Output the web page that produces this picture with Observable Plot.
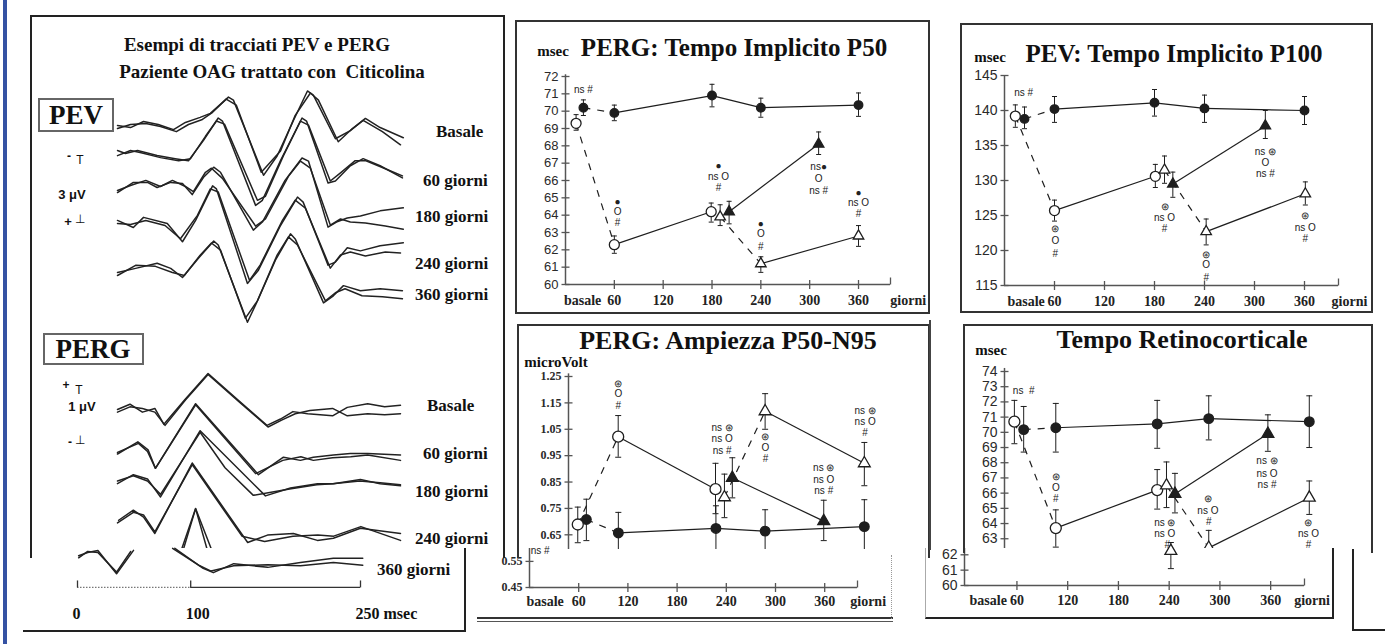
<!DOCTYPE html>
<html><head><meta charset="utf-8">
<script src="https://cdn.jsdelivr.net/npm/d3@7"></script>
<script src="https://cdn.jsdelivr.net/npm/@observablehq/plot@0.6"></script>
<style>
html,body{margin:0;padding:0;background:#fff;}
body{width:1394px;height:644px;overflow:hidden;position:relative;}
svg{overflow:visible;}
</style></head><body>
<script>
// ---------------- DATA ----------------
// PEV waveforms: [ms, µV relative to row baseline]
const pevRows = ["Basale","60 giorni","180 giorni","240 giorni","360 giorni"];
const pevOffsets = [0,-1.28,-3.25,-4.67,-7.23];
const pevBasaleA=[[0,0],[11.5,-0.1],[23,0.2],[36,0.05],[49.5,-0.2],[60,0.15],[73,0.4],[82,0.6],[98,1.4],[102.4,1.25],[129,-2.45],[141,-1.5],[155.4,0.25],[167.8,1.7],[173,1.5],[192.5,-0.65],[205.7,-0.25],[219,0.35],[232,-0.1],[252.5,-0.6]];
const pevBasaleB=[[0,-0.15],[11.5,0.05],[25,0.1],[38,-0.05],[52,-0.3],[62.7,0.05],[75,0.3],[84,0.65],[96,1.3],[105,1.0],[127,-2.3],[144,-1.25],[157,0.5],[170.4,1.6],[177.5,1.25],[195,-0.8],[207.5,-0.15],[217,0.25],[234,-0.3],[250,-0.95]];
const pev60A=[[0,0.05],[7,-0.1],[17.7,0.05],[35,-0.2],[51,-0.35],[62.7,-0.45],[76,0.55],[89,1.65],[92.7,1.5],[122,-2.65],[128,-2.4],[144,-0.45],[163,1.65],[167,1.5],[186,-1.55],[192.5,-1.45],[205.7,-0.7],[217,-0.35],[232,-0.7],[251.7,-1.3]];
const pev60B=[[0,-0.2],[11.5,0.05],[20,-0.05],[38,-0.3],[54,-0.45],[64.5,-0.35],[77.7,0.75],[87.4,1.5],[94.5,1.35],[123.6,-2.4],[130.7,-2.2],[146.6,-0.2],[161.6,1.5],[168.7,1.3],[188,-1.45],[197,-1.05],[210,-0.45],[219,-0.45],[236.6,-0.85],[251.7,-1.2]];
const pev180A=[[0,-0.05],[14,0.45],[26.5,0.45],[35,0.2],[47,0.45],[57.4,0.4],[66,-0.15],[76,0.7],[85,1.2],[91,0.95],[120,-1.9],[128,-1.5],[148,0.55],[163,1.65],[168.7,1.5],[186,-1.75],[193.4,-1.5],[203,-1.3],[214.6,-1.2],[232,-0.95],[252.5,-0.8]];
const pev180B=[[0,0.05],[11.5,0.3],[25,0.55],[38,0.25],[48.5,0.55],[60,0.25],[67,0],[77.7,0.95],[83,1.15],[92.7,0.65],[122,-1.7],[130.7,-1.35],[151,0.75],[161.6,1.5],[170.4,1.15],[188,-1.65],[197,-1.35],[205.7,-1.5],[219,-1.55],[236.6,-1.7],[252.5,-1.85]];
const pev240A=[[0,0],[14,-0.35],[23,0.15],[44,-0.15],[57.4,-1.05],[69,0],[84,1.7],[87.4,1.55],[114.8,-3.1],[124.5,-2.45],[144,-0.25],[159,1.15],[164,0.9],[186,-2.2],[192.5,-2.05],[203,-1.35],[214.6,-1.5],[232,-1.25],[252.5,-1.1]];
const pev240B=[[0,-0.15],[11.5,-0.2],[25,0],[42,-0.25],[55.6,-0.9],[70.6,0.25],[82,1.55],[89,1.4],[116.6,-2.95],[126,-2.2],[145.7,0],[157,1.0],[166,0.6],[188,-2.35],[197,-1.7],[205.7,-1.55],[219,-1.75],[236.6,-1.55],[250,-1.6]];
const pev360A=[[0,0],[16,0.2],[35,0.45],[47,0.2],[57.4,-0.25],[71.5,0.7],[85,1.55],[89,1.35],[114.8,-2.45],[122,-1.6],[139.5,0.6],[152.8,1.9],[157,1.65],[182,-1.5],[190.7,-1.15],[199.6,-0.65],[214.6,-0.9],[232,-0.8],[251.7,-0.9]];
const pev360B=[[0,-0.15],[16,0.35],[33.5,0.3],[48.5,0],[59,-0.15],[73,0.85],[83,1.45],[91,1.1],[113,-2.25],[123.6,-1.4],[141,0.85],[151,1.75],[159,1.35],[183.7,-1.4],[192.5,-1.0],[201,-0.8],[216,-1.15],[234,-1.2],[251.7,-1.3]];

// PERG waveforms
const pergRows = ["Basale","60 giorni","180 giorni","240 giorni","360 giorni"];
const pergOffsets = [0,-0.81,-1.40,-2.09,-2.85];
const pergBasaleA=[[0,0],[11,0.1],[22,-0.05],[33,0.02],[41,-0.28],[60,0.2],[80,0.68],[107,0.17],[132,-0.3],[144,-0.18],[155,-0.04],[168,-0.08],[190,-0.12],[203,0.04],[221,0.11],[236,0.05],[250,0.08]];
const pergBasaleB=[[0,-0.05],[11,0.05],[22,0.02],[33,-0.05],[42,-0.3],[60,0.18],[80,0.66],[107,0.15],[133,-0.33],[145,-0.2],[157,-0.08],[170,-0.02],[190,0.02],[203,-0.12],[221,-0.08],[236,-0.1],[250,-0.08]];
const perg60A=[[0,0],[18.5,0.17],[26.5,0.02],[33.5,-0.3],[69,0.92],[124.5,-0.42],[146.6,-0.09],[161.6,-0.15],[173,-0.09],[190.7,-0.05],[205.7,-0.02],[221,-0.02],[250,-0.05]];
const perg60B=[[0,-0.03],[18,0.2],[27,0.05],[33.5,-0.3],[69,0.9],[122,-0.4],[146,-0.15],[162,-0.08],[173,-0.15],[190,-0.1],[206,-0.08],[221,-0.05],[250,-0.15]];
const perg180A=[[0,0],[14,0.17],[26.5,0.09],[38,-0.25],[73,1.0],[130.7,-0.23],[152.8,-0.08],[176.6,0],[190.7,0],[214.6,0.08],[232,0],[250,-0.04]];
const perg180B=[[0,0.05],[14,0.15],[26.5,0.05],[38,-0.2],[73,0.97],[95,0.3],[120,-0.22],[152,-0.1],[176,-0.02],[190,0],[214,0.05],[232,0.02],[250,-0.02]];
const perg240A=[[1,0],[14,0.19],[23,0.06],[33,-0.25],[66,1.08],[115,-0.42],[132.5,-0.28],[155.4,-0.25],[176.6,-0.38],[190.7,-0.34],[214.6,-0.15],[250,-0.25]];
const perg240B=[[0,-0.05],[14,0.15],[23,0.1],[33,-0.22],[66,1.05],[110,-0.3],[130,-0.4],[155,-0.3],[177,-0.28],[191,-0.3],[215,-0.12],[250,-0.38]];
const perg360A=[[49.5,-0.23],[69,0.98],[85,-0.23]];
const perg360B=[[52,-0.23],[69,0.98],[91,-0.23]];
// pasted strip with 360 giorni PERG trace and time axis
const strip360A1=[[1,0.09],[9,0.15],[18,0.19],[34.5,-0.25],[49.5,0.19]];
const strip360A2=[[86,0.23],[111,-0.15],[120,-0.23],[138,-0.06],[168,-0.13],[197,-0.04],[226,0.04],[252,0.04]];
const strip360B1=[[1,0.05],[9,0.17],[18,0.15],[34.5,-0.22],[47,0.17]];
const strip360B2=[[84,0.23],[108,-0.1],[118,-0.2],[138,-0.1],[168,-0.08],[197,-0.1],[226,-0.04],[252,-0.09]];
const timeTicks=[0,100,250];
const timeTickLabels=["0","100","250 msec"];

// Chart 1: PERG Tempo Implicito P50  [giorni, msec, low, high]
const p50FilledCircle=[[22,70.2,69.75,70.65],[60,69.9,69.45,70.35],[180,70.9,70.25,71.55],[240,70.2,69.65,70.75],[360,70.35,69.7,71.05]];
const p50FilledCircleDash=[true,false,false,false];
const p50OpenCircle=[[13,69.3,68.9,69.8],[60,62.3,61.8,62.8],[179,64.2,63.6,64.7]];
const p50OpenCircleDash=[true,false];
const p50OpenTri=[[190,63.9,63.4,64.6],[240,61.2,60.7,61.6],[360,62.8,62.2,63.4]];
const p50OpenTriDash=[true,false];
const p50FilledTri=[[201,64.2,63.5,64.8],[311,68.1,67.5,68.8]];
const p50FilledTriDash=[false];
const p50Notes=[[22,71.23,"ns #"],[64,64.8,"●"],[64,64.2,"O"],[64,63.55,"#"],[188,66.85,"●"],[188,66.2,"ns O"],[188,65.6,"#"],[240,63.5,"●"],[240,62.9,"O"],[240,62.2,"#"],[311,66.77,"ns●"],[311,66.1,"O"],[311,65.4,"ns #"],[360,65.3,"●"],[360,64.7,"ns O"],[360,64.1,"#"]];
const p50YTicks=[60,61,62,63,64,65,66,67,68,69,70,71,72];

// Chart 2: PEV Tempo Implicito P100
const p100FilledCircle=[[24,138.8,137.4,140.5],[60,140.2,138.3,142],[180,141.1,139.2,143],[240,140.3,138.3,142.2],[360,140,138,142]];
const p100FilledCircleDash=[true,false,false,false];
const p100OpenCircle=[[13,139.2,137.6,140.8],[60,125.7,124.2,127.2],[181,130.6,129,132.3]];
const p100OpenCircleDash=[true,false];
const p100OpenTri=[[192,131.5,129.6,133.5],[242,122.7,120.8,124.5],[361,128.1,126.5,129.8]];
const p100OpenTriDash=[true,false];
const p100FilledTri=[[202,129.5,127.6,131.2],[313,137.8,136,140]];
const p100FilledTriDash=[false];
const p100Notes=[[23,142.6,"ns #"],[61,123.1,"⊛"],[61,121.4,"O"],[61,119.6,"#"],[192,126.3,"⊛"],[192,124.7,"ns O"],[192,123.1,"#"],[242,119.4,"⊛"],[242,117.9,"O"],[242,116.1,"#"],[313,134.1,"ns ⊛"],[313,132.6,"O"],[313,130.9,"ns #"],[361,124.9,"⊛"],[361,123.3,"ns O"],[361,121.7,"#"]];
const p100YTicks=[115,120,125,130,135,140,145];

// Chart 3: PERG Ampiezza P50-N95 (microVolt)
const ampFilledCircle=[[69,0.708,0.628,0.785],[108,0.657,0.58,0.735],[227,0.674,0.58,0.76],[287,0.664,0.58,0.745],[408,0.681,0.58,0.783]];
const ampFilledCircleDash=[true,false,false,false];
const ampOpenCircle=[[58.5,0.689,0.62,0.755],[107.8,1.022,0.944,1.102],[226.5,0.823,0.73,0.921]];
const ampOpenCircleDash=[true,false];
const ampOpenTri=[[237.4,0.792,0.715,0.88],[287,1.118,1.05,1.185],[408,0.921,0.836,1.0]];
const ampOpenTriDash=[true,false];
const ampFilledTri=[[247,0.866,0.79,0.942],[358.5,0.702,0.628,0.781]];
const ampFilledTriDash=[false];
const ampNotes=[[108,1.224,"⊛"],[108,1.184,"O"],[108,1.14,"#"],[234.6,1.055,"ns ⊛"],[234.6,1.012,"ns O"],[234.6,0.969,"ns #"],[287.4,1.02,"⊛"],[287.4,0.978,"O"],[287.4,0.938,"#"],[358.5,0.904,"ns ⊛"],[358.5,0.86,"ns O"],[358.5,0.818,"ns #"],[409,1.121,"ns ⊛"],[409,1.079,"ns O"],[409,1.035,"#"]];
const ampYTicksUpper=[0.65,0.75,0.85,0.95,1.05,1.15,1.25];
const ampYTicksLower=[0.45,0.55];
const ampStripNotes=[[13,0.592,"ns #"]];

// Chart 4: Tempo Retinocorticale
const retFilledCircle=[[68,70.18,68.7,71.7],[106,70.3,68.7,71.9],[226,70.55,68.95,72.1],[287,70.9,69.5,72.4],[406,70.7,69.0,72.4]];
const retFilledCircleDash=[true,false,false,false];
const retOpenCircle=[[57,70.7,69.25,72.1],[106,63.7,62.45,64.9],[226,66.2,64.95,67.55]];
const retOpenCircleDash=[true,false];
const retOpenTri=[[237,66.5,65.05,68.05],[287,62.4,62.1,63.55],[406,65.7,64.6,66.8]];
const retOpenTriDash=[true,false];
const retFilledTri=[[247,65.95,64.7,67.3],[357,69.9,68.75,71.15]];
const retFilledTriDash=[false];
const retStripTri=[[242,62.25,61.1,62.8]];
const retNotes=[[68,72.7,"ns  #"],[106,67.1,"⊛"],[106,66.35,"O"],[106,65.6,"#"],[235,64.05,"ns ⊛"],[235,63.3,"ns O"],[238,62.6,"#"],[286,65.6,"⊛"],[286,64.85,"ns O"],[287,64.1,"#"],[356,68.1,"ns ⊛"],[356,67.3,"ns O"],[356,66.55,"ns #"],[405,64.05,"⊛"],[405,63.3,"ns O"],[405,62.6,"#"]];
const retYTicksUpper=[63,64,65,66,67,68,69,70,71,72,73,74];
const retYTicksLower=[60,61,62];

const dayTicks=[60,120,180,240,300,360];
const dayTickLabels=["60","120","180","240","300","360"];

// ---------------- DRAWING ----------------
const SERIF='"Liberation Serif","Times New Roman",Times,serif';
const SANS='"Liberation Sans",Arial,Helvetica,sans-serif';
const AX="#555", INK="#1e1e1e";
const hSym={draw(c,s){const w=Math.sqrt(s/Math.PI);c.moveTo(-w,0);c.lineTo(w,0);}};
const vSym={draw(c,s){const w=Math.sqrt(s/Math.PI);c.moveTo(0,-w);c.lineTo(0,w);}};
const upSym={draw(c,s){const w=Math.sqrt(s/Math.PI);c.moveTo(0,0);c.lineTo(0,-w);}};

function rect(l,t,w,h,css,z){const d=document.createElement("div");d.style.cssText=`position:absolute;left:${l}px;top:${t}px;width:${w}px;height:${h}px;box-sizing:border-box;${css};z-index:${z||1}`;document.body.appendChild(d);return d;}
function place(node,l,t,z){const d=document.createElement("div");d.style.cssText=`position:absolute;left:${l}px;top:${t}px;z-index:${z||2};line-height:0`;d.appendChild(node);document.body.appendChild(d);return d;}
function label(txt,x,y,size,o={}){const d=document.createElement("div");const a=o.anchor||"middle";const tx=a==="middle"?"-50%":a==="end"?"-100%":"0";d.textContent=txt;d.style.cssText=`position:absolute;left:${x}px;top:${y}px;transform:translate(${tx},-50%);font-weight:${o.weight||"bold"};font-size:${size}px;font-family:${o.family||SERIF};white-space:pre;line-height:1;color:${o.color||"#111"};z-index:${o.z||7}`;document.body.appendChild(d);return d;}

function seriesMarks(list,o){
  const m=[];
  for(const s of list){
    const segs=s.dash.map((d,i)=>({x1:s.pts[i][0],y1:s.pts[i][1],x2:s.pts[i+1][0],y2:s.pts[i+1][1],d}));
    m.push(Plot.link(segs.filter(g=>g.d),{x1:"x1",y1:"y1",x2:"x2",y2:"y2",stroke:INK,strokeWidth:1.2,strokeDasharray:"7,7"}));
    m.push(Plot.link(segs.filter(g=>!g.d),{x1:"x1",y1:"y1",x2:"x2",y2:"y2",stroke:INK,strokeWidth:1.2}));
  }
  for(const s of list){
    m.push(Plot.ruleX(s.pts,{x:d=>d[0],y1:d=>d[2],y2:d=>d[3],stroke:INK,strokeWidth:1}));
    m.push(Plot.dot(s.pts,{x:d=>d[0],y:d=>d[3],symbol:hSym,r:o.cap,stroke:INK,fill:"none",strokeWidth:1}));
    m.push(Plot.dot(s.pts,{x:d=>d[0],y:d=>d[2],symbol:hSym,r:o.cap,stroke:INK,fill:"none",strokeWidth:1}));
  }
  for(const s of list){
    const filled=s.kind[0]==="f",tri=s.kind[1]==="t";
    m.push(Plot.dot(s.pts,{x:d=>d[0],y:d=>d[1],symbol:tri?"triangle":"circle",r:tri?o.rt:(filled?o.rf:o.ro),fill:filled?INK:"white",stroke:INK,strokeWidth:1.3}));
  }
  return m;
}

function chart(c){
  const marks=[];const y0=c.yDom[0];
  if(c.yTicks){
    marks.push(Plot.ruleX([c.axisX],{x:d=>d,y1:y0,y2:c.axisTop,stroke:AX,strokeWidth:1.5}));
    marks.push(Plot.dot(c.yTicks,{x:c.axisX,y:d=>d,symbol:hSym,r:4,stroke:AX,fill:"none",strokeWidth:1.3}));
    marks.push(Plot.text(c.yTicks,{x:c.axisX,y:d=>d,text:c.yFmt||(d=>String(d)),dx:-7,textAnchor:"end",fontFamily:c.yFamily||SANS,fontSize:c.ySize||13,fontWeight:c.yWeight||"normal",fill:"#2a2a2a"}));
  }
  if(c.xTicks){
    marks.push(Plot.ruleY([y0],{y:d=>d,x1:c.axisX,x2:c.xEnd,stroke:AX,strokeWidth:1.5}));
    marks.push(Plot.dot(c.xTicks,{x:d=>d,y:y0,symbol:vSym,r:4.5,stroke:AX,fill:"none",strokeWidth:1.3}));
    marks.push(Plot.dot([c.xEnd],{x:d=>d,y:y0,symbol:upSym,r:7,stroke:AX,fill:"none",strokeWidth:1.3}));
    marks.push(Plot.text(c.xLabels,{x:d=>d[0],y:y0,text:d=>d[1],dy:c.xDy||16,fontFamily:SERIF,fontWeight:"bold",fontSize:14,fill:"#222"}));
  }
  if(c.series)marks.push(...seriesMarks(c.series,c.sz));
  if(c.ann)marks.push(Plot.text(c.ann,{x:d=>d[0],y:d=>d[1],text:d=>d[2],fontFamily:SANS,fontSize:c.annSize||10,fill:"#222"}));
  if(c.extra)marks.push(...c.extra);
  return Plot.plot({width:c.w,height:c.h,marginLeft:c.mL,marginRight:c.mR,marginTop:c.mT,marginBottom:c.mB,
    x:{domain:c.xDom,axis:null},y:{domain:c.yDom,axis:null},style:{overflow:"visible",background:"transparent"},marks});
}
function waves(traces,offsets,c){
  const marks=[];
  traces.forEach((pair,i)=>pair.forEach(tr=>marks.push(Plot.line(tr,{x:d=>d[0],y:d=>d[1]+offsets[i],stroke:"#222",strokeWidth:1.5}))));
  if(c.extra)marks.push(...c.extra);
  return Plot.plot({width:c.w,height:c.h,marginLeft:c.mL,marginRight:c.mR,marginTop:0,marginBottom:0,
    x:{domain:c.xDom,axis:null},y:{domain:c.yDom,axis:null},style:{overflow:"visible",background:"transparent"},marks});
}

// blue page edge
rect(3,0,4,644,"background:#3552a3",1);

// ---------- left panel ----------
place(waves([[pevBasaleA,pevBasaleB],[pev60A,pev60B],[pev180A,pev180B],[pev240A,pev240B],[pev360A,pev360B]],pevOffsets,
  {w:470,h:255,mL:117,mR:70,xDom:[0,250],yDom:[-10.58,1.97]}),0,85,2);
place(waves([[pergBasaleA,pergBasaleB],[perg60A,perg60B],[perg180A,perg180B],[perg240A,perg240B],[perg360A,perg360B]],pergOffsets,
  {w:470,h:178,mL:117,mR:70,xDom:[0,250],yDom:[-2.623,0.736]}),0,370,2);
// pasted strip with 360 giorni PERG + time axis
rect(23,548,443,84,"background:#fff;border-right:2px solid #222;border-bottom:2px solid #222",3);
place(waves([[strip360A1,strip360A2,strip360B1,strip360B2]],[0],{w:441,h:83,mL:54,mR:104,xDom:[0,250],yDom:[-1.34,0.226],extra:[
  Plot.ruleY([-0.509],{y:d=>d,x1:0,x2:100,stroke:"#777",strokeWidth:1.2,strokeDasharray:"1.5,1.5"}),
  Plot.ruleY([-0.509],{y:d=>d,x1:100,x2:250,stroke:"#333",strokeWidth:1.3}),
  Plot.dot(timeTicks,{x:d=>d,y:-0.509,symbol:upSym,r:7,stroke:"#333",fill:"none",strokeWidth:1.3}),
  Plot.text(timeTicks,{x:d=>d,y:-0.509,text:(d,i)=>timeTickLabels[i],dy:26,textAnchor:"start",dx:-5,fontFamily:SERIF,fontWeight:"bold",fontSize:16,fill:"#111"})
]}),23,548,4);

label("Esempi di tracciati PEV e PERG",257,44,19);
label("Paziente OAG trattato con  Citicolina",272,71,19);
rect(38,98,76,34,"border:2px solid #666",6);
label("PEV",76,115,27);
rect(43,333,101,32,"border:2px solid #666",6);
label("PERG",93,349,27);
label("-",69,156,12,{family:SANS});label("T",80,160,12,{family:SANS,weight:"normal"});
label("3 μV",72,194,13,{family:SANS});
label("+",68,221,13,{family:SANS});label("⊥",80,219,12,{family:SANS,weight:"normal"});
label("+",66,385,12,{family:SANS});label("T",79,390,12,{family:SANS,weight:"normal"});
label("1 μV",82,406,13,{family:SANS});
label("-",70,442,12,{family:SANS});label("⊥",80,440,12,{family:SANS,weight:"normal"});
const pevLabelPos=[[436,131],[423,180],[415,216],[415,263],[415,294]];
pevRows.forEach((t,i)=>label(t,pevLabelPos[i][0],pevLabelPos[i][1],17,{anchor:"start"}));
const pergLabelPos=[[427,405],[423,453],[415,491],[415,538],[377,569]];
pergRows.forEach((t,i)=>label(t,pergLabelPos[i][0],pergLabelPos[i][1],17,{anchor:"start"}));

// panel borders
rect(30,15,475,543,"border-top:2px solid #222;border-left:2px solid #222;border-right:2px solid #222",6);

// ---------- chart 1 ----------
rect(515,20,415,294,"border:2px solid #333",6);
place(chart({w:400,h:293,mL:50,mR:25,mT:56,mB:29,xDom:[0,399.3],yDom:[60,72],axisX:0,axisTop:72.1,yTicks:p50YTicks,ySize:13,
  xTicks:dayTicks,xEnd:399.3,xLabels:[[21,"basale"],...dayTicks.map((d,i)=>[d,dayTickLabels[i]]),[421,"giorni"]],
  series:[{pts:p50FilledCircle,dash:p50FilledCircleDash,kind:"fc"},{pts:p50OpenCircle,dash:p50OpenCircleDash,kind:"oc"},{pts:p50OpenTri,dash:p50OpenTriDash,kind:"ot"},{pts:p50FilledTri,dash:p50FilledTriDash,kind:"ft"}],
  sz:{cap:2.5,rf:4.3,ro:5,rt:3.9},ann:p50Notes,annSize:10}),515,20,2);
label("PERG: Tempo Implicito P50",734,47,25);
label("msec",553,51,15);

// ---------- chart 2 ----------
rect(960,23,413,290,"border:2px solid #333",6);
place(chart({w:412,h:289,mL:44,mR:34,mT:52,mB:27,xDom:[0,400.8],yDom:[115,145],axisX:0,axisTop:145,yTicks:p100YTicks,ySize:14,
  xTicks:dayTicks,xEnd:400.8,xLabels:[[26,"basale"],...dayTicks.map((d,i)=>[d,dayTickLabels[i]]),[414,"giorni"]],
  series:[{pts:p100FilledCircle,dash:p100FilledCircleDash,kind:"fc"},{pts:p100OpenCircle,dash:p100OpenCircleDash,kind:"oc"},{pts:p100OpenTri,dash:p100OpenTriDash,kind:"ot"},{pts:p100FilledTri,dash:p100FilledTriDash,kind:"ft"}],
  sz:{cap:2.5,rf:4.3,ro:5,rt:3.9},ann:p100Notes,annSize:10}),960,23,2);
label("PEV: Tempo Implicito P100",1174,53,25);
label("msec",990,57,15);

// ---------- chart 3 ----------
rect(517,324,413,234,"border-top:2px solid #333;border-left:2px solid #333;border-right:2px solid #333",6);
place(chart({w:413,h:234,mL:51,mR:0,mT:52,mB:0,xDom:[47.2,488.7],yDom:[0.5602,1.25],axisX:47.2,axisTop:1.26,
  yTicks:ampYTicksUpper,yFmt:d=>d.toFixed(2),yFamily:SERIF,yWeight:"bold",ySize:12,
  series:[{pts:ampFilledCircle,dash:ampFilledCircleDash,kind:"fc"},{pts:ampOpenCircle,dash:ampOpenCircleDash,kind:"oc"},{pts:ampOpenTri,dash:ampOpenTriDash,kind:"ot"},{pts:ampFilledTri,dash:ampFilledTriDash,kind:"ft"}],
  sz:{cap:3,rf:4.8,ro:5.5,rt:4.4},ann:ampNotes,annSize:10}),517,324,2);
rect(477,549,416,70,"background:#fff",4);
place(chart({w:416,h:72,mL:52,mR:0,mT:0,mB:33,xDom:[0,443.9],yDom:[0.45,0.5994],axisX:0,axisTop:0.5994,
  yTicks:ampYTicksLower,yFmt:d=>d.toFixed(2),yFamily:SERIF,yWeight:"bold",ySize:12,
  xTicks:dayTicks,xEnd:400,xLabels:[[19,"basale"],...dayTicks.map((d,i)=>[d,dayTickLabels[i]]),[413,"giorni"]],xDy:14,
  ann:ampStripNotes,annSize:10}),477,548,5);
rect(477,617,416,2,"background:#333",5);
rect(477,621,416,1,"background:#555",5);
rect(891,555,1,64,"border-left:1px dotted #999",5);
label("PERG: Ampiezza P50-N95",728,341,26);
label("microVolt",556,362,15);

// ---------- chart 4 ----------
rect(963,324,410,229,"border-top:2px solid #333;border-left:2px solid #333;border-right:2px solid #333",6);
rect(929,320,2,230,"background:#444",6);
place(chart({w:409,h:229,mL:41,mR:0,mT:47,mB:0,xDom:[45.3,480.8],yDom:[62.03,74],axisX:45.3,axisTop:74.2,
  yTicks:retYTicksUpper,ySize:14,
  series:[{pts:retFilledCircle,dash:retFilledCircleDash,kind:"fc"},{pts:retOpenCircle,dash:retOpenCircleDash,kind:"oc"},{pts:retOpenTri,dash:retOpenTriDash,kind:"ot"},{pts:retFilledTri,dash:retFilledTriDash,kind:"ft"}],
  sz:{cap:3,rf:4.8,ro:5.5,rt:4.4},ann:retNotes,annSize:10}),963,324,2);
rect(925,548,409,71,"background:#fff;border-left:1px solid #aaa;border-bottom:2px solid #222;border-right:2px solid #222",4);
place(chart({w:408,h:70,mL:39,mR:0,mT:0,mB:33,xDom:[-2,434.3],yDom:[60,62.41],axisX:-2,axisTop:62.41,
  yTicks:retYTicksLower,ySize:14,
  xTicks:dayTicks,xEnd:400,xLabels:[[26,"basale"],...dayTicks.map((d,i)=>[d,dayTickLabels[i]]),[409,"giorni"]],xDy:15,
  series:[{pts:retStripTri,dash:[],kind:"ot"}],sz:{cap:3,rf:4.8,ro:5.5,rt:4.4}}),925,548,5);
label("Tempo Retinocorticale",1182,340,26);
label("msec",991,350,15);

// stray frame lines at bottom right
rect(1352,549,2,82,"background:#222",6);
rect(1352,629,33,2,"background:#222",6);
</script>
</body></html>
